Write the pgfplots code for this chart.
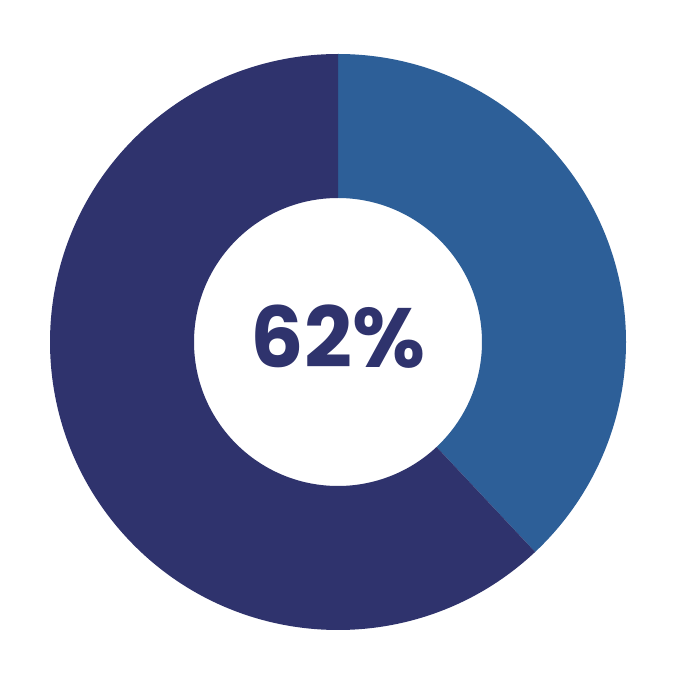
\documentclass[border=0pt]{standalone}
\usepackage{fontspec}
\setmainfont{Poppins}
\usepackage{pgfplots}
\usepackage{pgfplotstable}
\usetikzlibrary{calc}
\pgfplotsset{compat=1.18}
\definecolor{lightblue}{HTML}{2D5F98}
\definecolor{navy}{HTML}{2F336D}
\pgfplotstableread{
label value
A 38
B 62
}\donutdata
\pgfplotstablegetelem{0}{value}\of\donutdata \let\valA\pgfplotsretval
\pgfplotstablegetelem{1}{value}\of\donutdata \let\valB\pgfplotsretval
\begin{document}
\begin{tikzpicture}[x=1pt,y=1pt]
\path[fill=white] (0,0) rectangle (674,686);
\begin{axis}[
  at={(338pt,344pt)}, anchor=center,
  width=576pt, height=576pt, scale only axis,
  xmin=-288, xmax=288, ymin=-288, ymax=288,
  hide axis, clip=false,
]
\pgfmathsetmacro{\angA}{90-3.6*\valA}
\pgfmathsetmacro{\angB}{\angA-3.6*\valB}
% segment A (light blue), clockwise from 12 o'clock
\fill[lightblue] (axis cs:0,0) ++(90:288pt) arc[start angle=90, end angle=\angA, radius=288pt]
  -- ($(axis cs:0,0)+(\angA:144pt)$) arc[start angle=\angA, end angle=90, radius=144pt] -- cycle;
% segment B (navy)
\fill[navy] (axis cs:0,0) ++(\angA:288pt) arc[start angle=\angA, end angle=\angB, radius=288pt]
  -- ($(axis cs:0,0)+(\angB:144pt)$) arc[start angle=\angB, end angle=\angA, radius=144pt] -- cycle;
\node[text=navy, font=\fontsize{84}{90}\selectfont\bfseries] at (axis cs:0,5) {\valB\%};
\end{axis}
\end{tikzpicture}
\end{document}
